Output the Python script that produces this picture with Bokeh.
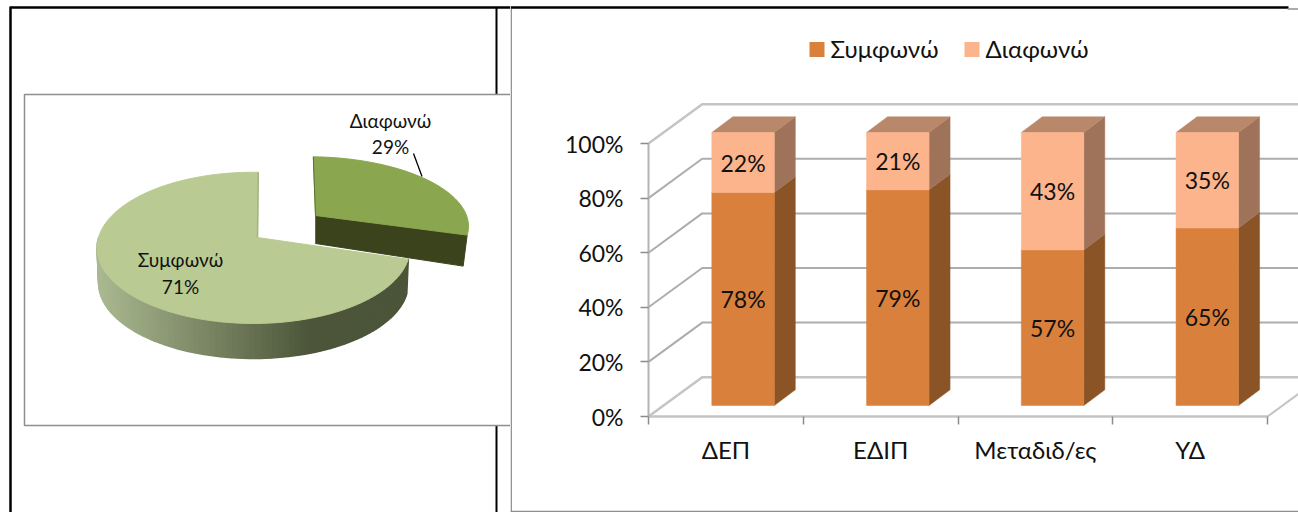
import numpy as np
from bokeh.embed import file_html
from bokeh.layouts import row
from bokeh.models import FixedTicker, LinearAxis, Range1d
from bokeh.plotting import figure
from bokeh.resources import INLINE

# ---- data ----
pie_labels = ["Συμφωνώ", "Διαφωνώ"]
pie_shares = [71, 29]

groups = ["ΔΕΠ", "ΕΔΙΠ", "Μεταδιδ/ες", "ΥΔ"]
agree = [78, 79, 57, 65]
disagree = [22, 21, 43, 35]
pct_ticks = [0, 20, 40, 60, 80, 100]

FONT = "Lato"
TXT = "#111111"
BLACK = "#000000"
FRAME = "#8f8f8f"


def base_figure(width, x_range, y_range):
    p = figure(width=width, height=512, x_range=x_range, y_range=y_range,
               output_backend="svg", toolbar_location=None, min_border=0,
               x_axis_type=None, y_axis_type=None, outline_line_color=None)
    p.grid.visible = False
    p.background_fill_color = "white"
    p.border_fill_color = "white"
    return p


# ---- left panel: exploded 3D pie, coordinates in panel pixels ----
left = base_figure(510, Range1d(0, 510), Range1d(512, 0))

left.line([10, 10], [6, 512], line_color=BLACK, line_width=2.5)
left.line([10, 510], [7, 7], line_color=BLACK, line_width=2.5)
left.line([496, 496], [7, 94], line_color=BLACK, line_width=2)
left.line([496, 496], [425, 512], line_color=BLACK, line_width=2)
left.line([510, 24, 24, 510], [94, 94, 425, 425], line_color=FRAME, line_width=1.5)

# projection of the tilted disc: near side drawn larger than far side
ARC_X, HUB_Y, A, B, K = 253.0, 237.0, 155.0, 74.2, 0.137
HUB_X = 257.0
START = np.radians(2.0)


def rim(theta):
    u, v = np.sin(theta), np.cos(theta)
    w = 1 + K * v
    return ARC_X + A * u / w, HUB_Y - B * v / w


split = START + np.radians(360 * pie_shares[1] / sum(pie_shares))

# large slice: side wall as shaded strips, then the top face
big = np.linspace(split, START + 2 * np.pi, 240)
bx, by = rim(big)
wall = np.radians(np.linspace(106, 270, 90))
dark, light = np.array([0x4c, 0x55, 0x39]), np.array([0xa9, 0xb8, 0x90])
for t0, t1 in zip(wall[:-1], wall[1:]):
    x0, y0 = rim(t0)
    x1, y1 = rim(t1)
    frac = np.clip(((x0 + x1) / 2 - 100) / (310 - 100), 0, 1)
    col = light + (dark - light) * frac
    color = "#%02x%02x%02x" % tuple(int(c) for c in col)
    left.patch([x0, x1, x1 - 0.01 * (x1 - 253), x0 - 0.01 * (x0 - 253)],
               [y0, y1, y1 + 35, y0 + 35], fill_color=color, line_color=color, line_width=1.5)
left.patch(list(bx) + [HUB_X], list(by) + [HUB_Y], fill_color="#b9cb92", line_color="#b9cb92", line_width=1)
left.line([rim(START)[0], HUB_X], [rim(START)[1], HUB_Y], line_color="#a3b483", line_width=1.5)

# small slice pulled out from the hub
small = np.linspace(START, split, 80)
sx, sy = rim(small)
OUT_X, OUT_Y = 315.0, 215.0
ex = OUT_X + (sx - HUB_X) + (sy - HUB_Y) * 0.9 * 0.05
ey = OUT_Y + (sy - HUB_Y) * 0.9
left.patch([OUT_X, ex[-1], ex[-1] - 4, OUT_X], [OUT_Y, ey[-1], ey[-1] + 31, OUT_Y + 28],
           fill_color="#3a431c", line_color="#3a431c", line_width=1)
left.patch(list(ex) + [OUT_X], list(ey) + [OUT_Y], fill_color="#8aa64f", line_color="#8aa64f", line_width=1)
left.line([ex[0], OUT_X, OUT_X], [ey[0], OUT_Y, OUT_Y + 28], line_color="#5e7036", line_width=1)

left.line([413, 421.5], [153, 176], line_color=BLACK, line_width=1.3)
left.text([390, 390], [120, 146], text=[pie_labels[1], f"{pie_shares[1]}%"], text_font=[FONT] * 2,
          text_font_size="19px", text_align="center", text_baseline="middle", text_color=TXT)
left.text([180, 180], [259, 286], text=[pie_labels[0], f"{pie_shares[0]}%"], text_font=[FONT] * 2,
          text_font_size="19px", text_align="center", text_baseline="middle", text_color=TXT)

# ---- right panel: 100% stacked 3D columns ----
ORIGIN_X, ORIGIN_Y, GROUP_W, FULL_H = 648.0, 416.0, 154.75, 273.0
PANEL_X = 510.0
x_range = Range1d((PANEL_X - ORIGIN_X) / GROUP_W, (1298 - ORIGIN_X) / GROUP_W)
y_range = Range1d((ORIGIN_Y - 512) / FULL_H * 100, ORIGIN_Y / FULL_H * 100)
right = base_figure(788, x_range, y_range)

ux, uy = 1 / GROUP_W, 100 / FULL_H  # data units per pixel
WALL_DX, WALL_DY = 53.7 * ux, 39.3 * uy
END = len(groups)

# panel edges
right.line([x_range.start + 0.7 * ux] * 2, [y_range.start, y_range.end - 8 * uy], line_color=FRAME, line_width=1.5)
right.line([x_range.start, x_range.start + 778 * ux], [y_range.end - 7 * uy] * 2, line_color=BLACK, line_width=2.5)
right.line([x_range.start + 777 * ux, x_range.end], [y_range.end - 8.5 * uy] * 2, line_color=FRAME, line_width=1.5)
right.line([x_range.start, x_range.end], [y_range.start + 1 * uy] * 2, line_color=FRAME, line_width=1.5)

# walls and floor
for t in pct_ticks:
    color = "#c4c4c4" if t in (0, 100) else "#adadad"
    width = 2.5 if t in (0, 100) else 2
    right.line([0, WALL_DX, x_range.end], [t, t + WALL_DY, t + WALL_DY], line_color=color, line_width=width)
right.line([0, END], [0, 0], line_color="#c4c4c4", line_width=2.5)
right.line([END, x_range.end], [0, (x_range.end - END) * WALL_DY / WALL_DX], line_color="#c4c4c4", line_width=2)

yaxis = LinearAxis(ticker=FixedTicker(ticks=pct_ticks), fixed_location=0, bounds=(0, 100))
yaxis.major_label_overrides = {t: f"{t}%" for t in pct_ticks}
yaxis.axis_line_color = "#b4b4b4"
yaxis.axis_line_width = 2
yaxis.major_tick_line_color = "#8c8c8c"
yaxis.major_tick_line_width = 1.5
yaxis.major_tick_out = 8
yaxis.major_tick_in = 0
yaxis.minor_tick_line_color = None
yaxis.major_label_standoff = 17
yaxis.major_label_text_font = FONT
yaxis.major_label_text_font_size = "23px"
yaxis.major_label_text_color = TXT
right.add_layout(yaxis, "left")

centers = [i + 0.5 for i in range(END)]
xaxis = LinearAxis(ticker=FixedTicker(ticks=centers, minor_ticks=list(range(END + 1))),
                   fixed_location=0, bounds=(0, END))
xaxis.major_label_overrides = dict(zip(centers, groups))
xaxis.axis_line_color = None
xaxis.major_tick_line_color = None
xaxis.major_tick_out = 0
xaxis.major_tick_in = 0
xaxis.minor_tick_line_color = "#8c8c8c"
xaxis.minor_tick_line_width = 1.5
xaxis.minor_tick_out = 8
xaxis.minor_tick_in = 0
xaxis.major_label_standoff = 10
xaxis.major_label_text_font = FONT
xaxis.major_label_text_font_size = "24px"
xaxis.major_label_text_color = TXT
right.add_layout(xaxis, "below")

# columns: front face plus side and top faces, set back from the axes
BAR_W = 62.5 * ux
LIFT_X, LIFT_Y = 63.3 * ux, 11.0 * uy
DEPTH_X, DEPTH_Y = 21.0 * ux, 15.7 * uy
ORANGE, PEACH = "#d9803c", "#fbb48c"
SIDE_ORANGE, SIDE_PEACH, TOP_PEACH = "#8a5426", "#9f735a", "#b9876a"

for i, (a, d) in enumerate(zip(agree, disagree)):
    x0 = i + LIFT_X
    x1 = x0 + BAR_W
    y0 = LIFT_Y
    ym = y0 + a
    y1 = ym + d
    right.patch([x1, x1 + DEPTH_X, x1 + DEPTH_X, x1], [y0, y0 + DEPTH_Y, ym + DEPTH_Y, ym],
                fill_color=SIDE_ORANGE, line_color=SIDE_ORANGE, line_width=0.5)
    right.patch([x1, x1 + DEPTH_X, x1 + DEPTH_X, x1], [ym, ym + DEPTH_Y, y1 + DEPTH_Y, y1],
                fill_color=SIDE_PEACH, line_color=SIDE_PEACH, line_width=0.5)
    right.patch([x0, x1, x1 + DEPTH_X, x0 + DEPTH_X], [y1, y1, y1 + DEPTH_Y, y1 + DEPTH_Y],
                fill_color=TOP_PEACH, line_color=TOP_PEACH, line_width=0.5)
    right.quad(left=x0, right=x1, bottom=y0, top=ym, fill_color=ORANGE, line_color=ORANGE, line_width=0.5)
    right.quad(left=x0, right=x1, bottom=ym, top=y1, fill_color=PEACH, line_color=PEACH, line_width=0.5)
    mid = (x0 + x1) / 2
    right.text([mid, mid], [(y0 + ym) / 2, (ym + y1) / 2], text=[f"{a}%", f"{d}%"], text_font=[FONT] * 2,
               text_font_size="23px", text_align="center", text_baseline="middle", text_color=TXT)

# legend row above the plot
LEG_Y = (ORIGIN_Y - 49) * uy
for lx, name, col in [(809, pie_labels[0], ORANGE), (964, pie_labels[1], PEACH)]:
    xl = (lx - ORIGIN_X) * ux
    right.quad(left=xl, right=xl + 15 * ux, bottom=LEG_Y - 7.5 * uy, top=LEG_Y + 7.5 * uy, fill_color=col, line_color=None)
    right.text([xl + 21 * ux], [LEG_Y + 1.5 * uy], text=[name], text_font=[FONT], text_font_size="24px",
               text_align="left", text_baseline="middle", text_color=TXT)

page = row(left, right)
open("out.html", "w").write(file_html(page, INLINE))
